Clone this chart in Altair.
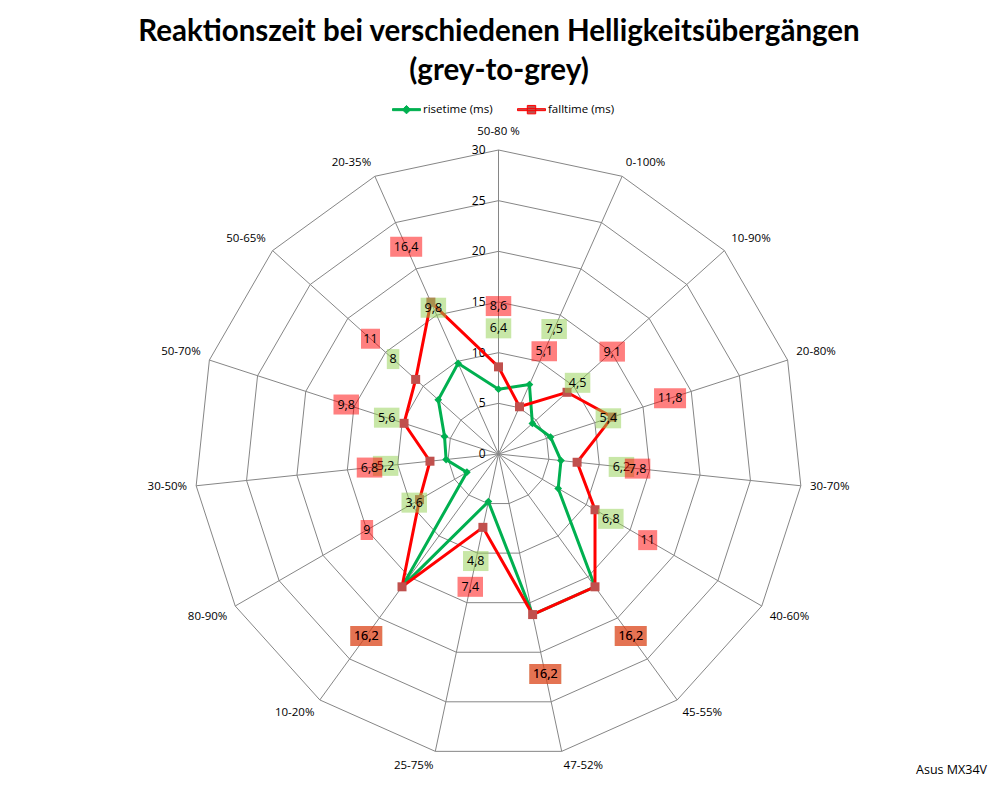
import altair as alt
import pandas as pd

categories = ["50-80 %", "0-100%", "10-90%", "20-80%", "30-70%", "40-60%", "45-55%",
              "47-52%", "25-75%", "10-20%", "80-90%", "30-50%", "50-70%", "50-65%", "20-35%"]
risetime = [6.4, 7.5, 4.5, 5.4, 6.2, 6.8, 16.2, 16.2, 4.8, 16.2, 3.6, 5.2, 5.6, 8.0, 9.8]
falltime = [8.6, 5.1, 9.1, 11.8, 7.8, 11.0, 16.2, 16.2, 7.4, 16.2, 9.0, 6.8, 9.8, 11.0, 16.4]
ticks = [0, 5, 10, 15, 20, 25, 30]
series_names = ["risetime (ms)", "falltime (ms)"]
title_lines = ["Reaktionszeit bei verschiedenen Helligkeitsübergängen", "(grey-to-grey)"]
footer = ["Asus MX34V"]

N = len(categories)
RMAX = ticks[-1]
K = 304 / 30.0          # pixels per unit
W, H = 982, 680
CX, CY = 490.5, 356
XDOM = [-CX / K, (W - CX) / K]
YDOM = [-(H - CY) / K, CY / K]
FONT = "Open Sans"


def de(v):
    return f"{v:g}".replace(".", ",")


rows = []
for s, vals in zip(series_names, [risetime, falltime]):
    for i in range(N + 1):
        j = i % N
        rows.append({"series": s, "idx": i, "cat": categories[j], "v": vals[j], "label": de(vals[j])})
series_df = pd.DataFrame(rows)
rings_df = pd.DataFrame([{"r": t, "idx": i} for t in ticks[1:] for i in range(N + 1)])
spokes_df = pd.DataFrame({"idx": list(range(N)), "r": [RMAX] * N})
ticks_df = pd.DataFrame({"t": ticks, "label": [str(t) for t in ticks]})
cats_df = pd.DataFrame({"idx": list(range(N)), "cat": categories})
legend_df = pd.DataFrame({"series": series_names})
footer_df = pd.DataFrame({"t": footer})

xs = alt.Scale(domain=XDOM, nice=False, zero=False)
ys = alt.Scale(domain=YDOM, nice=False, zero=False)
ANG = f"2*PI*datum.idx/{N}"


def X(f):
    return alt.X(f"{f}:Q", scale=xs, axis=None)


def Y(f):
    return alt.Y(f"{f}:Q", scale=ys, axis=None)


GRID = "#868686"
layers = []

# spokes
layers.append(
    alt.Chart(spokes_df).transform_calculate(
        zx="0", zy="0",
        px=f"datum.r*sin({ANG})", py=f"datum.r*cos({ANG})"
    ).mark_rule(color=GRID, strokeWidth=1).encode(
        x=X("zx"), y=Y("zy"), x2="px:Q", y2="py:Q")
)
# rings
layers.append(
    alt.Chart(rings_df).transform_calculate(
        px=f"datum.r*sin({ANG})", py=f"datum.r*cos({ANG})"
    ).mark_line(color=GRID, strokeWidth=1).encode(
        x=X("px"), y=Y("py"), detail="r:N", order="idx:Q")
)
# radial tick labels
layers.append(
    alt.Chart(ticks_df).transform_calculate(zx="0").mark_text(
        align="right", baseline="middle", dx=-13, font=FONT, fontSize=12, color="#000000"
    ).encode(x=X("zx"), y=Y("t"), text="label:N")
)

styles = {
    series_names[0]: dict(line="#00B050", marker="#00B050", shape="diamond", size=60,
                          box="#92D050"),
    series_names[1]: dict(line="#FF0000", marker="#C0504D", shape="square", size=81,
                          box="#FF0000"),
}

for s in series_names:
    st = styles[s]
    base = alt.Chart(series_df).transform_filter(f"datum.series == '{s}'").transform_calculate(
        px=f"datum.v*sin({ANG})", py=f"datum.v*cos({ANG})")
    layers.append(base.mark_line(color=st["line"], strokeWidth=3).encode(
        x=X("px"), y=Y("py"), order="idx:Q"))
    layers.append(base.transform_filter(f"datum.idx < {N}").mark_point(
        filled=True, shape=st["shape"], size=st["size"], color=st["marker"], opacity=1,
        strokeWidth=0).encode(x=X("px"), y=Y("py")))

for s in series_names:
    st = styles[s]
    lab = alt.Chart(series_df).transform_filter(
        f"datum.series == '{s}' && datum.idx < {N}").transform_calculate(
        lx=f"(datum.v+6)*sin({ANG})", ly=f"(datum.v+6)*cos({ANG})",
        hw=f"(length(datum.label)*6.5+6)/2/{K}", hh=f"10/{K}"
    ).transform_calculate(
        x1="datum.lx-datum.hw", x2="datum.lx+datum.hw",
        y1="datum.ly-datum.hh", y2="datum.ly+datum.hh")
    layers.append(lab.mark_rect(color=st["box"], opacity=0.5).encode(
        x=X("x1"), x2="x2:Q", y=Y("y1"), y2="y2:Q"))
    layers.append(lab.mark_text(font=FONT, fontSize=12.5, color="#000000",
                                align="center", baseline="middle").encode(
        x=X("lx"), y=Y("ly"), text="label:N"))

# category labels
GAP = 0.9
aligns = [("left", "datum.s > 0.05", 0), ("right", "datum.s < -0.05", 0),
          ("center", "abs(datum.s) <= 0.05", -4)]
baselines = [("bottom", "datum.c > 0.25"), ("top", "datum.c < -0.25"),
             ("middle", "abs(datum.c) <= 0.25")]
catbase = alt.Chart(cats_df).transform_calculate(
    s=f"sin({ANG})", c=f"cos({ANG})").transform_calculate(
    px=f"{RMAX + GAP}*datum.s", py=f"{RMAX + GAP}*datum.c")
for a, acond, ddy in aligns:
    for b, bcond in baselines:
        layers.append(catbase.transform_filter(f"({acond}) && ({bcond})").mark_text(
            align=a, baseline=b, dy=ddy, font=FONT, fontSize=11.5, color="#000000").encode(
            x=X("px"), y=Y("py"), text="cat:N"))

# legend: one merged legend (fill = marker colour, stroke = line colour, shape = line+marker)
LEG = alt.Legend(orient="none", legendX=384, legendY=-3, direction="horizontal", columns=2,
                 title=None, symbolSize=784, symbolStrokeWidth=1, symbolOpacity=1,
                 labelFont=FONT, labelFontSize=11.5, labelColor="#000000", labelOffset=2,
                 columnPadding=22, padding=0)
LINE = "M-1,-0.072H1V0.072H-1Z"
paths = [LINE + " M0,-0.3L0.3,0L0,0.3L-0.3,0Z",
         LINE + " M-0.3,-0.3H0.3V0.3H-0.3Z"]
layers.append(alt.Chart(legend_df).mark_point(clip=True, filled=True, opacity=1).encode(
    x=alt.value(-60), y=alt.value(-60),
    fill=alt.Fill("series:N", scale=alt.Scale(domain=series_names,
                                             range=["#00B050", "#C0504D"]), legend=LEG),
    stroke=alt.Stroke("series:N", scale=alt.Scale(domain=series_names,
                                                 range=["#00B050", "#FF0000"]), legend=LEG),
    shape=alt.Shape("series:N", scale=alt.Scale(domain=series_names, range=paths),
                    legend=LEG)))

# footer
layers.append(alt.Chart(footer_df).mark_text(
    align="right", baseline="middle", font=FONT, fontSize=12.5, color="#000000").encode(
    x=alt.value(979), y=alt.value(672), text="t:N"))

chart = alt.layer(*layers).properties(
    width=W, height=H,
    title=alt.TitleParams(text=title_lines, font="Lato", fontSize=29.5, fontWeight="bold",
                          anchor="middle", lineHeight=39, offset=9, color="#000000"),
    padding={"left": 0, "top": 90, "right": 0, "bottom": 0},
    autosize=alt.AutoSizeParams(type="none"),
).configure_view(stroke=None)

chart.save("out.html", embed_options={"renderer": "svg", "actions": False})
